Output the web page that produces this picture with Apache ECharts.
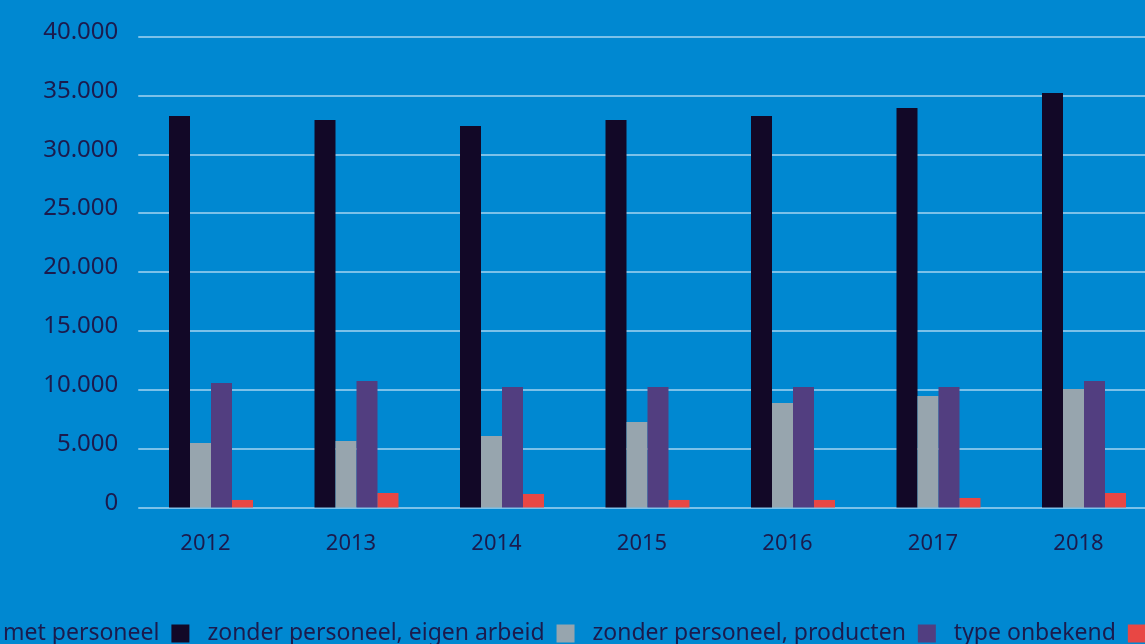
<!DOCTYPE html>
<html>
<head>
<meta charset="utf-8">
<script src="https://cdn.jsdelivr.net/npm/echarts@6/dist/echarts.min.js"></script>
<style>
  html, body { margin: 0; padding: 0; background: #0088d1; }
  #chart { width: 1145px; height: 644px; }
</style>
</head>
<body>
<div id="chart"></div>
<script>
// Aantal bedrijven per type, 2012-2018
const years = ['2012', '2013', '2014', '2015', '2016', '2017', '2018'];
const metPersoneel = [33250, 32900, 32400, 32900, 33250, 33930, 35200];
const eigenArbeid = [5480, 5650, 6070, 7260, 8870, 9470, 10060];
const producten = [10570, 10740, 10230, 10230, 10230, 10230, 10740];
const onbekend = [640, 1230, 1150, 640, 640, 810, 1230];

const seriesNames = [
  'met personeel',
  'zonder personeel, eigen arbeid',
  'zonder personeel, producten',
  'type onbekend'
];
const seriesColors = ['#120827', '#97a5ae', '#523e80', '#e84744'];
const seriesData = [metPersoneel, eigenArbeid, producten, onbekend];

const textColor = '#1b1b4d';
const fontFamily = '"Noto Sans", "Open Sans", sans-serif';

const chart = echarts.init(document.getElementById('chart'));
chart.setOption({
  backgroundColor: '#0088d1',
  animation: false,
  textStyle: { fontFamily: fontFamily },
  grid: {
    left: 138.25, width: 1018.5, top: 36.5, bottom: 136.5,
    outerBoundsMode: 'none'
  },
  legend: {
    left: 3,
    top: 622,
    width: 1200,
    padding: 0,
    align: 'right',
    icon: 'rect',
    itemWidth: 18,
    itemHeight: 18,
    itemGap: 18,
    textStyle: {
      color: textColor,
      fontSize: 23,
      fontFamily: fontFamily,
      padding: [0, 7, 0, 0]
    },
    data: seriesNames
  },
  xAxis: {
    type: 'category',
    data: years,
    axisLine: { show: false },
    axisTick: { show: false },
    axisLabel: {
      color: textColor,
      fontSize: 22,
      margin: 25,
      padding: [0, 11, 0, 0]
    }
  },
  yAxis: {
    type: 'value',
    min: 0,
    max: 40000,
    interval: 5000,
    axisLine: { show: false },
    axisTick: { show: false },
    axisLabel: {
      color: textColor,
      fontSize: 24,
      margin: 20,
      verticalAlign: 'bottom',
      lineHeight: 9,
      formatter: function (v) {
        return v === 0 ? '0' : (v / 1000).toFixed(0) + '.000';
      }
    },
    splitLine: {
      lineStyle: { color: 'rgba(235,245,255,0.7)', width: 1.5 }
    }
  },
  series: seriesNames.map(function (name, i) {
    return {
      name: name,
      type: 'bar',
      data: seriesData[i],
      barWidth: 21,
      barGap: '0%',
      itemStyle: { color: seriesColors[i] }
    };
  })
});
</script>
</body>
</html>
